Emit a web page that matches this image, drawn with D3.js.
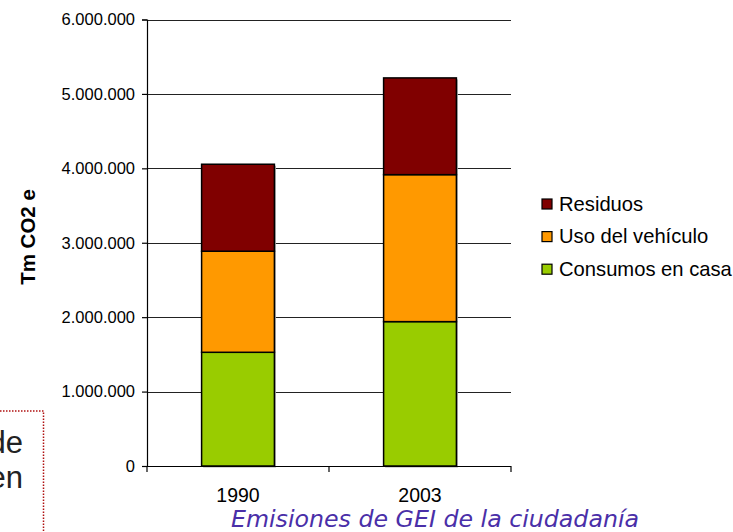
<!DOCTYPE html>
<html>
<head>
<meta charset="utf-8">
<script src="https://cdn.jsdelivr.net/npm/d3@7"></script>
<style>
  body { margin: 0; background: #fff; }
  svg { display: block; }
</style>
</head>
<body>
<script>
// data
var years = ["1990", "2003"];
var series = ["Consumos en casa", "Uso del vehículo", "Residuos"];
var consumos = [1528000, 1940000];
var vehiculo = [1358000, 1975000];
var residuos = [1169000, 1300000];
var colors = ["#99cc00", "#ff9900", "#800000"];
var yTicks = [0, 1000000, 2000000, 3000000, 4000000, 5000000, 6000000];

var width = 733, height = 532;

var svg = d3.select("body").append("svg")
  .attr("width", width)
  .attr("height", height);

// table for stacking
var rows = years.map(function (y, i) {
  return { year: y, "Consumos en casa": consumos[i], "Uso del vehículo": vehiculo[i], "Residuos": residuos[i] };
});
var stacked = d3.stack().keys(series)(rows);

var x = d3.scaleBand()
  .domain(years)
  .range([147, 511])
  .paddingInner(0.6)
  .paddingOuter(0.3);

var y = d3.scaleLinear()
  .domain([0, 6000000])
  .range([466, 19.5]);

var fmt = function (d) {
  return d3.format(",")(d).replace(/,/g, ".");
};

// gridlines
svg.append("g")
  .selectAll("line")
  .data(yTicks.slice(1))
  .enter()
  .append("line")
  .attr("x1", 147).attr("x2", 511)
  .attr("y1", function (d) { return Math.round(y(d)) + 0.5; })
  .attr("y2", function (d) { return Math.round(y(d)) + 0.5; })
  .attr("stroke", "#222")
  .attr("stroke-width", 1.2);

// bar shadows
svg.append("g")
  .selectAll("rect")
  .data(rows)
  .enter()
  .append("rect")
  .attr("x", function (d) { return x(d.year) + 1.5; })
  .attr("y", function (d, i) { return y(consumos[i] + vehiculo[i] + residuos[i]) + 1.5; })
  .attr("width", x.bandwidth())
  .attr("height", function (d, i) { return y(0) - y(consumos[i] + vehiculo[i] + residuos[i]); })
  .attr("fill", "#aaa");

// stacked bars
svg.append("g")
  .selectAll("g")
  .data(stacked)
  .enter()
  .append("g")
  .attr("fill", function (d, i) { return colors[i]; })
  .selectAll("rect")
  .data(function (d) { return d; })
  .enter()
  .append("rect")
  .attr("x", function (d) { return x(d.data.year); })
  .attr("y", function (d) { return y(d[1]); })
  .attr("width", x.bandwidth())
  .attr("height", function (d) { return y(d[0]) - y(d[1]); })
  .attr("stroke", "#000")
  .attr("stroke-width", 1.5);

// y axis
var yAxis = d3.axisLeft(y)
  .tickValues(yTicks)
  .tickSize(5)
  .tickPadding(7)
  .tickFormat(fmt);

var ya = svg.append("g")
  .attr("transform", "translate(147,0)")
  .call(yAxis);
ya.selectAll("text")
  .attr("font-family", "Liberation Sans, Arial, sans-serif")
  .attr("font-size", 16.5)
  .attr("fill", "#000");
ya.selectAll("line, path").attr("stroke", "#000").attr("stroke-width", 1.2);

// x axis: ticks between categories, labels under bars
var xa = svg.append("g")
  .attr("transform", "translate(0,466)");
xa.append("line")
  .attr("x1", 147).attr("x2", 511)
  .attr("y1", 0.5).attr("y2", 0.5)
  .attr("stroke", "#000").attr("stroke-width", 1.2);
xa.selectAll(".xt")
  .data([147, 329, 511])
  .enter()
  .append("line")
  .attr("class", "xt")
  .attr("x1", function (d) { return d; })
  .attr("x2", function (d) { return d; })
  .attr("y1", 0).attr("y2", 6)
  .attr("stroke", "#000").attr("stroke-width", 1.2);
xa.selectAll("text")
  .data(years)
  .enter()
  .append("text")
  .attr("x", function (d) { return x(d) + x.bandwidth() / 2; })
  .attr("y", 36)
  .attr("text-anchor", "middle")
  .attr("font-family", "Liberation Sans, Arial, sans-serif")
  .attr("font-size", 19.5)
  .text(function (d) { return d; });

// y axis title
svg.append("text")
  .attr("transform", "translate(35,237) rotate(-90)")
  .attr("text-anchor", "middle")
  .attr("font-family", "Liberation Sans, Arial, sans-serif")
  .attr("font-weight", "bold")
  .attr("font-size", 20.5)
  .text("Tm CO2 e");

// legend (reverse order: top is Residuos)
var legendItems = series.slice().reverse();
var legend = svg.append("g")
  .selectAll("g")
  .data(legendItems)
  .enter()
  .append("g")
  .attr("transform", function (d, i) { return "translate(542," + (199 + i * 32.6) + ")"; });
legend.append("rect")
  .attr("width", 10).attr("height", 10)
  .attr("fill", function (d) { return colors[series.indexOf(d)]; })
  .attr("stroke", "#000")
  .attr("stroke-width", 1.2);
legend.append("text")
  .attr("x", 17)
  .attr("y", 11.5)
  .attr("font-family", "Liberation Sans, Arial, sans-serif")
  .attr("font-size", 20.2)
  .text(function (d) { return d; });

// caption
svg.append("text")
  .attr("x", 435)
  .attr("y", 526.5)
  .attr("text-anchor", "middle")
  .attr("font-family", "DejaVu Sans, Verdana, sans-serif")
  .attr("font-style", "italic")
  .attr("font-size", 23.7)
  .attr("fill", "#4a2fa8")
  .text("Emisiones de GEI de la ciudadanía");

// dotted text box at left edge
svg.append("rect")
  .attr("x", -60).attr("y", 411)
  .attr("width", 103.5).attr("height", 160)
  .attr("fill", "none")
  .attr("stroke", "#b01010")
  .attr("stroke-width", 1.5)
  .attr("stroke-dasharray", "1.5,1.5");
svg.selectAll(".boxtxt")
  .data([{ t: "de", y: 453 }, { t: "en", y: 488 }])
  .enter()
  .append("text")
  .attr("class", "boxtxt")
  .attr("x", 23)
  .attr("y", function (d) { return d.y; })
  .attr("text-anchor", "end")
  .attr("font-family", "Liberation Sans, Arial, sans-serif")
  .attr("font-size", 31)
  .attr("fill", "#222")
  .text(function (d) { return d.t; });
</script>
</body>
</html>
